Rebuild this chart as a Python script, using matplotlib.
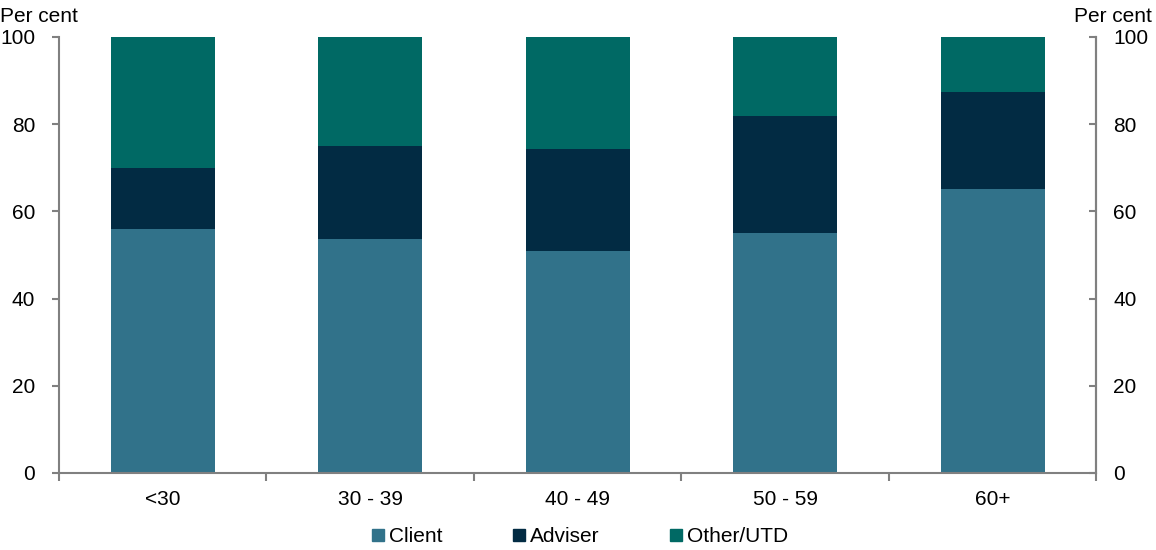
import matplotlib
matplotlib.use("Agg")
import matplotlib.pyplot as plt
from matplotlib.patches import Patch
import numpy as np

plt.rcParams['font.family'] = ['Liberation Sans', 'DejaVu Sans']

categories = ["<30", "30 - 39", "40 - 49", "50 - 59", "60+"]
client = [56.0, 53.7, 50.9, 55.0, 65.1]
adviser = [14.0, 21.3, 23.4, 26.9, 22.3]
other = [30.0, 25.0, 25.7, 18.1, 12.6]
yticks = [0, 20, 40, 60, 80, 100]

c_client = "#31728A"
c_adviser = "#022B43"
c_other = "#006964"
spine_c = "#808080"
fs = 15

fig = plt.figure(figsize=(11.56, 5.5), dpi=100)
ax = fig.add_axes([0.051, 0.14, 0.8975, 0.793])
x = np.arange(len(categories))
w = 0.5
b1 = np.array(client)
b2 = b1 + np.array(adviser)
ax.bar(x, client, w, color=c_client, label="Client")
ax.bar(x, adviser, w, bottom=b1, color=c_adviser, label="Adviser")
ax.bar(x, other, w, bottom=b2, color=c_other, label="Other/UTD")

ax.set_xlim(-0.5, len(categories) - 0.5)
ax.set_ylim(0, 100)
ax.set_yticks(yticks)
ax.tick_params(axis='y', labelsize=fs, length=5, width=1.5, color=spine_c, pad=12)
ax.set_xticks(x)
ax.set_xticklabels(categories)
ax.set_xticks(np.arange(len(categories) + 1) - 0.5, minor=True)
ax.tick_params(axis='x', which='major', length=0, labelsize=fs, pad=12)
ax.tick_params(axis='x', which='minor', length=6, width=1.5, color=spine_c)

ax.spines['top'].set_visible(False)
for s in ['left', 'right', 'bottom']:
    ax.spines[s].set_color(spine_c)
    ax.spines[s].set_linewidth(1.5)

ax2 = ax.twinx()
ax2.set_ylim(0, 100)
ax2.set_yticks(yticks)
ax2.tick_params(axis='y', direction='in', labelsize=fs, length=5, width=1.5,
                color=spine_c, pad=12)
for s in ['top', 'left', 'bottom']:
    ax2.spines[s].set_visible(False)
ax2.spines['right'].set_color(spine_c)
ax2.spines['right'].set_linewidth(1.5)

fig.text(0.0, 0.952, "Per cent", fontsize=fs, ha='left', va='bottom')
fig.text(0.996, 0.952, "Per cent", fontsize=fs, ha='right', va='bottom')

handles = [Patch(color=c_client, label="Client"),
           Patch(color=c_adviser, label="Adviser"),
           Patch(color=c_other, label="Other/UTD")]
fig.legend(handles=handles, loc='center', bbox_to_anchor=(0.502, 0.024), ncol=3,
           frameon=False, fontsize=fs, handlelength=0.55, handleheight=0.55,
           handletextpad=0.25, columnspacing=3.4, borderpad=0)

fig.savefig("out.png", dpi=100)
